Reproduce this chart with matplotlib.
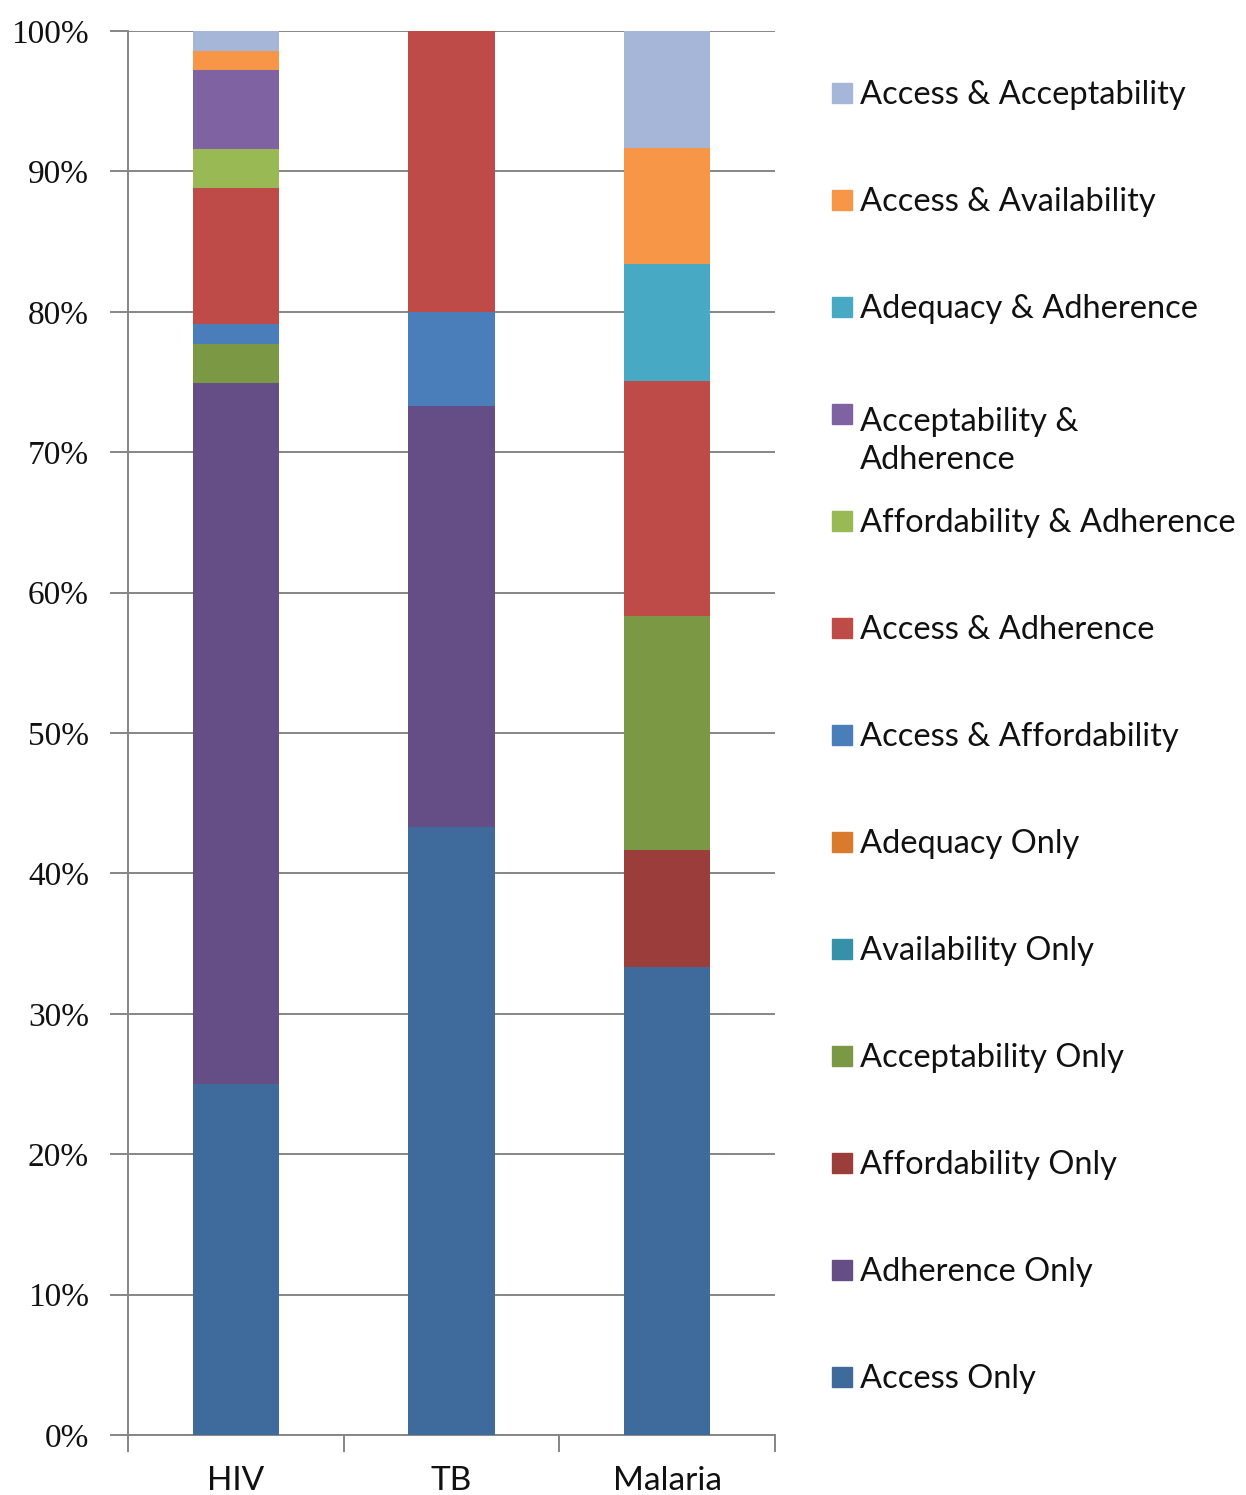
import numpy as np
import matplotlib.pyplot as plt
from matplotlib.patches import Rectangle
from matplotlib.ticker import FuncFormatter

# categories and stacked series (bottom to top)
categories = ['HIV', 'TB', 'Malaria']
series = ['Access Only', 'Adherence Only', 'Affordability Only', 'Acceptability Only',
          'Availability Only', 'Adequacy Only', 'Access & Affordability',
          'Access & Adherence', 'Affordability & Adherence', 'Acceptability & Adherence',
          'Adequacy & Adherence', 'Access & Availability', 'Access & Acceptability']
legend_labels = ['Access Only', 'Adherence Only', 'Affordability Only', 'Acceptability Only',
                 'Availability Only', 'Adequacy Only', 'Access & Affordability',
                 'Access & Adherence', 'Affordability & Adherence',
                 'Acceptability &\nAdherence',
                 'Adequacy & Adherence', 'Access & Availability', 'Access & Acceptability']

# share of each problem type per disease (%)
hiv = [25.0, 50.0, 0, 2.8, 0, 0, 1.4, 9.7, 2.8, 5.6, 0, 1.4, 1.4]
tb = [43.3, 30.0, 0, 0, 0, 0, 6.7, 20.0, 0, 0, 0, 0, 0]
malaria = [33.3, 0, 8.3, 16.7, 0, 0, 0, 16.7, 0, 0, 8.3, 8.3, 8.3]

colors = ['#3F6A9C', '#654D85', '#9B3D3B', '#7B9844', '#3590A8', '#D97A2C',
          '#4A7EBB', '#BE4B48', '#98B954', '#7E62A1', '#48A9C5', '#F79646', '#A6B6D8']

values = np.array([hiv, tb, malaria], dtype=float)
values = values / values.sum(axis=1, keepdims=True) * 100  # 100% stacked

W, H = 1246, 1495
fig = plt.figure(figsize=(W / 100, H / 100), dpi=100)
ax = fig.add_axes([128 / W, 1 - 1435 / H, (775 - 128) / W, (1435 - 31) / H])

x = np.arange(len(categories))
bottom = np.zeros(len(categories))
for i, name in enumerate(series):
    ax.bar(x, values[:, i], bottom=bottom, width=0.4, color=colors[i], zorder=3)
    bottom += values[:, i]

ax.set_xlim(-0.5, 2.5)
ax.set_ylim(0, 100)
ax.set_yticks(np.arange(0, 101, 10))
ax.yaxis.set_major_formatter(FuncFormatter(lambda v, p: f'{v:.0f}%'))
ax.grid(axis='y', color='#868686', linewidth=1.4, zorder=0)

ax.set_xticks(x)
ax.set_xticklabels(categories, family='Lato', fontsize=24, color='#111111')
ax.set_xticks([-0.5, 0.5, 1.5, 2.5], minor=True)
ax.tick_params(axis='x', which='major', length=0, pad=22)
ax.tick_params(axis='x', which='minor', length=12, width=1.4, color='#868686')
ax.tick_params(axis='y', length=13, width=1.4, color='#868686', pad=15)
for lbl in ax.get_yticklabels():
    lbl.set_family('Liberation Serif')
    lbl.set_fontsize(24)
    lbl.set_color('#111111')

for side in ['top', 'right']:
    ax.spines[side].set_visible(False)
for side in ['left', 'bottom']:
    ax.spines[side].set_color('#868686')
    ax.spines[side].set_linewidth(1.4)

# legend drawn entry by entry, top entry first
for k, idx in enumerate(range(len(series) - 1, -1, -1)):
    yc = 93 + 107 * k
    label = legend_labels[idx]
    nlines = label.count('\n')
    fig.patches.append(Rectangle((832 / W, 1 - (yc + 10) / H), 20 / W, 20 / H,
                                 transform=fig.transFigure, color=colors[idx]))
    fig.text(860 / W, 1 - (yc + 11 + 44 * nlines) / H, label, family='Lato',
             fontsize=23.5, color='#111111', va='baseline', ha='left', linespacing=1.35)

fig.savefig('out.png', dpi=100)
